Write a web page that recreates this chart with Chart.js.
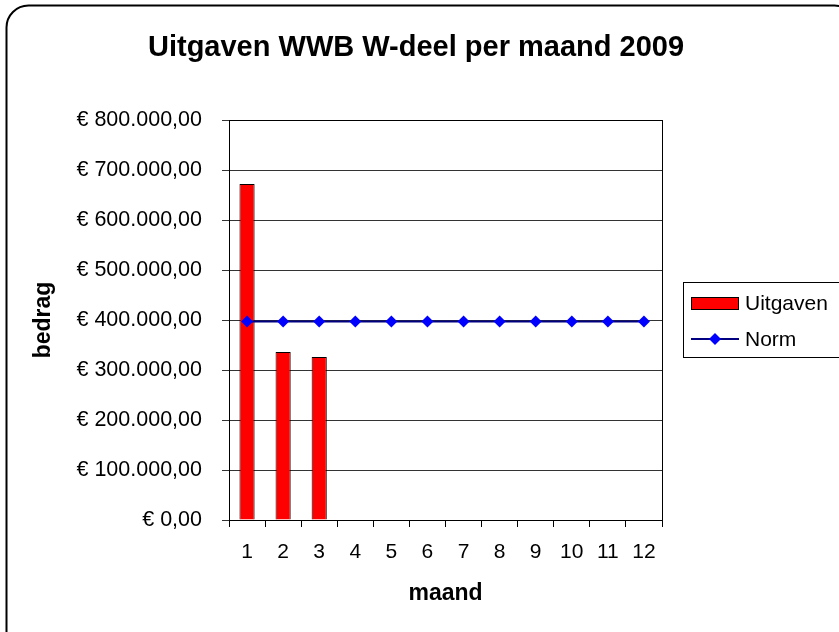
<!DOCTYPE html>
<html>
<head>
<meta charset="utf-8">
<script src="https://cdn.jsdelivr.net/npm/chart.js@4.4.1/dist/chart.umd.min.js"></script>
<style>
  html, body { margin: 0; padding: 0; background: #fff; }
  #wrap { width: 839px; height: 632px; position: relative; }
</style>
</head>
<body>
<div id="wrap"><canvas id="uitgavenChart" width="839" height="632"></canvas></div>
<script>
// Data
const titel = 'Uitgaven WWB W-deel per maand 2009';
const maanden = ['1', '2', '3', '4', '5', '6', '7', '8', '9', '10', '11', '12'];
const uitgaven = [672000, 336000, 326000, null, null, null, null, null, null, null, null, null];
const norm = [397000, 397000, 397000, 397000, 397000, 397000, 397000, 397000, 397000, 397000, 397000, 397000];
const yTicks = [0, 100000, 200000, 300000, 400000, 500000, 600000, 700000, 800000];

const FONT = "'Liberation Sans', Arial, sans-serif";

function euro(value) {
    const parts = value.toFixed(2).split('.');
    const whole = parts[0].replace(/\B(?=(\d{3})+(?!\d))/g, '.');
    return '€ ' + whole + ',' + parts[1];
}

// Rounded outer frame (runs off the right/bottom edges like the original)
const framePlugin = {
    id: 'frame',
    beforeDraw(chart) {
        const ctx = chart.ctx;
        ctx.save();
        ctx.fillStyle = '#fff';
        ctx.fillRect(0, 0, chart.width, chart.height);
        ctx.beginPath();
        ctx.roundRect(6.5, 5.5, 850, 650, 22);
        ctx.lineWidth = 2;
        ctx.strokeStyle = '#000';
        ctx.stroke();
        ctx.restore();
    },
    afterDraw(chart) {
        const ctx = chart.ctx;
        const a = chart.chartArea;
        ctx.save();
        // border round the plot area
        ctx.strokeStyle = '#000';
        ctx.lineWidth = 1;
        ctx.strokeRect(Math.round(a.left) + 0.5, Math.round(a.top) + 0.5,
            Math.round(a.right - a.left), Math.round(a.bottom - a.top));
        // title, centred on the whole picture (not only the plot)
        ctx.fillStyle = '#000';
        ctx.font = 'bold 29px ' + FONT;
        ctx.textAlign = 'center';
        ctx.textBaseline = 'middle';
        ctx.fillText(titel, 416, 48);
        ctx.restore();
    }
};

// Legend box on the right, with a line+diamond sample for Norm
const legendPlugin = {
    id: 'sideLegend',
    afterDraw(chart) {
        const ctx = chart.ctx;
        const sets = chart.data.datasets;
        ctx.save();
        ctx.strokeStyle = '#000';
        ctx.lineWidth = 1;
        ctx.strokeRect(683.5, 282.5, 160, 75);

        ctx.font = '21px ' + FONT;
        ctx.textBaseline = 'middle';

        // bars
        ctx.fillStyle = sets[0].backgroundColor;
        ctx.fillRect(691, 297, 48, 13);
        ctx.strokeRect(691.5, 297.5, 47, 12);
        ctx.fillStyle = '#000';
        ctx.fillText(sets[0].label, 745, 304);

        // line
        ctx.strokeStyle = sets[1].borderColor;
        ctx.lineWidth = 2;
        ctx.beginPath();
        ctx.moveTo(691, 339);
        ctx.lineTo(739, 339);
        ctx.stroke();
        ctx.fillStyle = sets[1].pointBackgroundColor;
        ctx.beginPath();
        ctx.moveTo(715, 333);
        ctx.lineTo(721, 339);
        ctx.lineTo(715, 345);
        ctx.lineTo(709, 339);
        ctx.closePath();
        ctx.fill();
        ctx.fillStyle = '#000';
        ctx.fillText(sets[1].label, 745, 340);
        ctx.restore();
    }
};

const ctx = document.getElementById('uitgavenChart').getContext('2d');

new Chart(ctx, {
    type: 'bar',
    data: {
        labels: maanden,
        datasets: [
            {
                type: 'bar',
                label: 'Uitgaven',
                data: uitgaven,
                backgroundColor: '#FF0000',
                borderColor: '#000000',
                borderWidth: 1,
                borderSkipped: 'bottom',
                barPercentage: 0.42,
                categoryPercentage: 1.0,
                order: 2
            },
            {
                type: 'line',
                label: 'Norm',
                data: norm,
                borderColor: '#000080',
                borderWidth: 2,
                pointStyle: 'rectRot',
                pointRadius: 6,
                pointBackgroundColor: '#0000FF',
                pointBorderColor: '#0000FF',
                pointBorderWidth: 0,
                tension: 0,
                order: 1
            }
        ]
    },
    options: {
        responsive: false,
        animation: false,
        layout: {
            padding: { left: 0, right: 177, top: 120, bottom: 0 }
        },
        scales: {
            x: {
                offset: true,
                grid: {
                    offset: true,
                    drawOnChartArea: false,
                    drawTicks: true,
                    tickLength: 7,
                    color: '#000'
                },
                border: { color: '#000' },
                ticks: {
                    color: '#000',
                    padding: 13,
                    font: { family: FONT, size: 21 },
                    maxRotation: 0
                },
                title: {
                    display: true,
                    text: 'maand',
                    color: '#000',
                    padding: { top: 0, bottom: 25 },
                    font: { family: FONT, size: 23, weight: 'bold' }
                },
                afterFit(scale) { scale.height = 112; }
            },
            y: {
                min: 0,
                max: 800000,
                afterBuildTicks(scale) {
                    scale.ticks = yTicks.map(v => ({ value: v }));
                },
                grid: {
                    color: '#333',
                    drawTicks: true,
                    tickLength: 7
                },
                border: { color: '#000' },
                ticks: {
                    color: '#000',
                    padding: 20,
                    font: { family: FONT, size: 21.5 },
                    callback: value => euro(value)
                },
                title: {
                    display: true,
                    text: 'bedrag',
                    color: '#000',
                    padding: { top: 30, bottom: 0 },
                    font: { family: FONT, size: 23, weight: 'bold' }
                },
                afterFit(scale) { scale.width = 229; }
            }
        },
        plugins: {
            legend: { display: false },
            tooltip: { enabled: false },
            title: { display: false }
        }
    },
    plugins: [framePlugin, legendPlugin]
});
</script>
</body>
</html>
